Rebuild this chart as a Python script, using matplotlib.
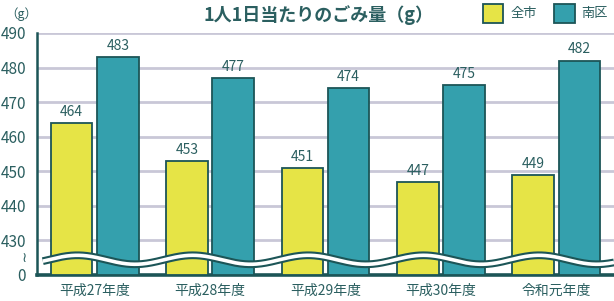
import numpy as np
import matplotlib.pyplot as plt
from matplotlib.patches import Rectangle

plt.rcParams['font.family'] = ['Noto Sans CJK JP', 'DejaVu Sans']

years = ['平成27年度', '平成28年度', '平成29年度', '平成30年度', '令和元年度']
city = [464, 453, 451, 447, 449]
minami = [483, 477, 474, 475, 482]
yticks = [0, 430, 440, 450, 460, 470, 480, 490]

txt = '#2b5f60'
edge = '#1c5557'
yellow = '#e6e446'
teal = '#34a0ad'
grid = '#c9c7d7'


# broken axis: 0..430 squeezed into 10 units, above that linear
def fwd(v):
    v = np.asarray(v, dtype=float)
    return np.where(v < 430, v * 10 / 430, v - 420)


def inv(d):
    d = np.asarray(d, dtype=float)
    return np.where(d < 10, d * 430 / 10, d + 420)


fig = plt.figure(figsize=(6.14, 3.01), dpi=100)
ax = fig.add_axes([0.0603, 0.0864, 0.9397, 0.804])
ax.set_yscale('function', functions=(fwd, inv))

x = np.arange(len(years))
w = 0.36
ax.bar(x - 0.2, city, w, color=yellow, edgecolor=edge, linewidth=1.3, zorder=3)
ax.bar(x + 0.2, minami, w, color=teal, edgecolor=edge, linewidth=1.3, zorder=3)

for xi, v in zip(x, city):
    ax.text(xi - 0.2, v + 1.2, str(v), ha='center', va='bottom', color=txt, fontsize=10, zorder=5)
for xi, v in zip(x, minami):
    ax.text(xi + 0.2, v + 1.2, str(v), ha='center', va='bottom', color=txt, fontsize=10, zorder=5)

ax.set_xlim(-0.5, 4.5)
ax.set_ylim(0, 490)
for t in yticks[1:]:
    ax.axhline(t, color=grid, linewidth=2, zorder=1)

ax.set_yticks(yticks)
ax.set_yticklabels([str(t) for t in yticks])
ax.set_xticks(x)
ax.set_xticklabels(years)
ax.tick_params(axis='y', length=0, pad=8, labelsize=11, labelcolor=txt)
ax.tick_params(axis='x', length=0, pad=6, labelsize=10, labelcolor=txt)

for s in ['top', 'right']:
    ax.spines[s].set_visible(False)
ax.spines['left'].set_color(edge)
ax.spines['left'].set_linewidth(1.8)
ax.spines['bottom'].set_color(edge)
ax.spines['bottom'].set_linewidth(2.6)

# wavy break band
wx = np.linspace(-0.45, 4.5, 600)
wy = inv(4.4 + 1.3 * np.sin(2 * np.pi * (wx + 0.4)))
ax.plot(wx, wy, color=edge, linewidth=5.6, solid_capstyle='butt', zorder=6)
ax.plot(wx, wy, color='white', linewidth=2.6, solid_capstyle='butt', zorder=7)
fig.text(0.039, 0.143, '≀', ha='center', va='center', color=txt, fontsize=10,
         family='DejaVu Sans')

fig.text(0.034, 0.953, '（g）', ha='center', va='center', color=txt, fontsize=9)
fig.text(0.518, 0.95, '1人1日当たりのごみ量（g）', ha='center', va='center',
         color=txt, fontsize=13, fontweight='bold')

# legend
for bx, col, lab in [(0.786, yellow, '全市'), (0.902, teal, '南区')]:
    fig.patches.append(Rectangle((bx, 0.925), 0.034, 0.063, transform=fig.transFigure,
                                 facecolor=col, edgecolor=edge, linewidth=1.3))
    fig.text(bx + 0.045, 0.955, lab, ha='left', va='center', color=txt, fontsize=9.5)

fig.savefig('out.png', dpi=100)
